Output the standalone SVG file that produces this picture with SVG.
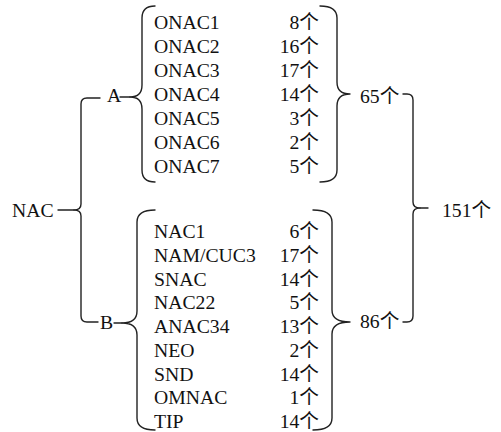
<svg xmlns="http://www.w3.org/2000/svg" width="501" height="432" viewBox="0 0 501 432">
<style>
.t{font-family:"Liberation Serif","Noto Sans CJK SC",serif;font-size:19.7px;fill:#111}
.c{text-anchor:end}
.b{fill:none;stroke:#222;stroke-width:1.4;stroke-linecap:round;stroke-linejoin:round}
</style>
<rect width="501" height="432" fill="#fff"/>
<g id="connectors">
<path class="b" d="M100,98 L87,98 Q81,98 81,104 L81,204 Q81,210 74,210 Q81,210 81,216 L81,316 Q81,322 87,322 L98,322"/>
<path class="b" d="M58,210 L74,210"/>
<path class="b" d="M120,97 L130,97"/>
<path class="b" d="M114,323 L122,323"/>
<path class="b" d="M155,6 Q142,6 142,18 L142,85 Q142,97 130,97 Q142,97 142,109 L142,170 Q142,182 155,182"/>
<path class="b" d="M320,6 Q337,6 337,18 L337,82 Q337,94 350,94 Q337,94 337,106 L337,170 Q337,182 320,182"/>
<path class="b" d="M155,210 Q137,210 137,222 L137,311 Q137,323 122,323 Q137,323 137,335 L137,418 Q137,430 155,430"/>
<path class="b" d="M313,210 Q332,210 332,222 L332,310 Q332,322 350,322 Q332,322 332,334 L332,418 Q332,430 313,430"/>
<path class="b" d="M403,94 L407,94 Q413,94 413,100 L413,202 Q413,208 420,208 Q413,208 413,214 L413,316 Q413,322 407,322 L403,322"/>
<path class="b" d="M420,208 L428,208"/>
</g>
<g id="NAC"><text class="t" x="12" y="217">NAC</text></g>
<g id="A"><text class="t" x="107" y="102">A</text></g>
<g id="B"><text class="t" x="100" y="329">B</text></g>
<g id="groupA">
<text class="t" x="154" y="29">ONAC1</text>
<text class="t" x="154" y="53">ONAC2</text>
<text class="t" x="154" y="77">ONAC3</text>
<text class="t" x="154" y="101">ONAC4</text>
<text class="t" x="154" y="125">ONAC5</text>
<text class="t" x="154" y="149">ONAC6</text>
<text class="t" x="154" y="173">ONAC7</text>
<text class="t c" x="319" y="29">8个</text>
<text class="t c" x="319" y="53">16个</text>
<text class="t c" x="319" y="77">17个</text>
<text class="t c" x="319" y="101">14个</text>
<text class="t c" x="319" y="125">3个</text>
<text class="t c" x="319" y="149">2个</text>
<text class="t c" x="319" y="173">5个</text>
</g>
<g id="groupB">
<text class="t" x="154" y="238">NAC1</text>
<text class="t" x="154" y="261.75">NAM/CUC3</text>
<text class="t" x="154" y="285.5">SNAC</text>
<text class="t" x="154" y="309.25">NAC22</text>
<text class="t" x="154" y="333">ANAC34</text>
<text class="t" x="154" y="356.75">NEO</text>
<text class="t" x="154" y="380.5">SND</text>
<text class="t" x="154" y="404.25">OMNAC</text>
<text class="t" x="154" y="428">TIP</text>
<text class="t c" x="319" y="238">6个</text>
<text class="t c" x="319" y="261.75">17个</text>
<text class="t c" x="319" y="285.5">14个</text>
<text class="t c" x="319" y="309.25">5个</text>
<text class="t c" x="319" y="333">13个</text>
<text class="t c" x="319" y="356.75">2个</text>
<text class="t c" x="319" y="380.5">14个</text>
<text class="t c" x="319" y="404.25">1个</text>
<text class="t c" x="319" y="428">14个</text>
</g>
<g id="sumA"><text class="t" x="360" y="103">65个</text></g>
<g id="sumB"><text class="t" x="360" y="328">86个</text></g>
<g id="total"><text class="t" x="442" y="217">151个</text></g>
</svg>
